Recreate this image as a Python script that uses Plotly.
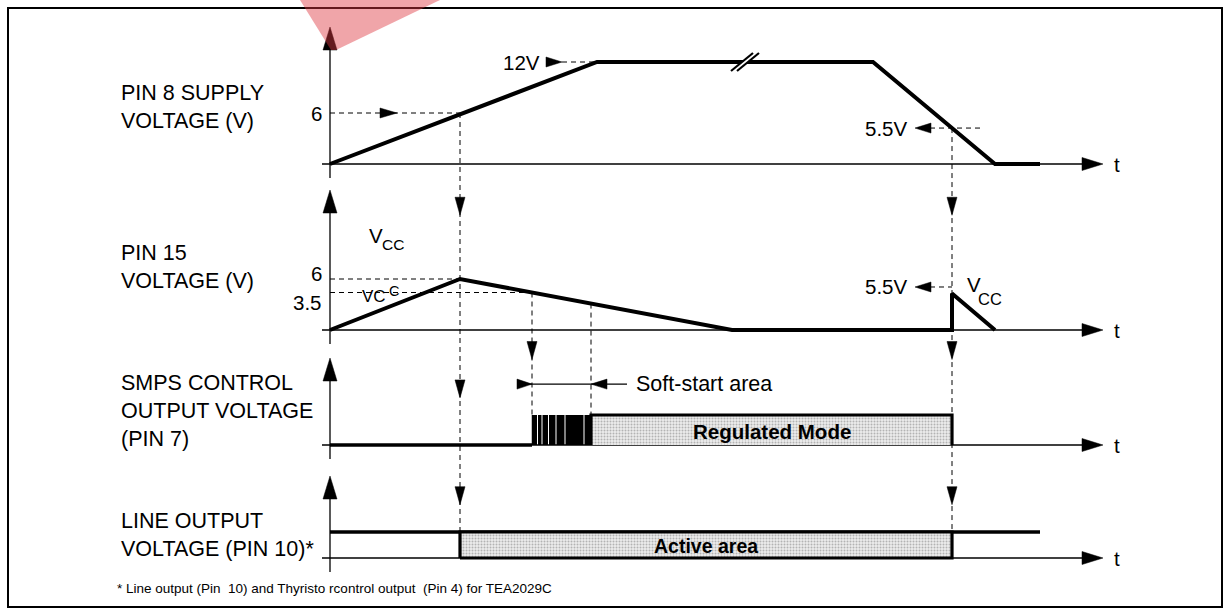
import numpy as np
import plotly.graph_objects as go

W, H = 1230, 615

# ---------------- data ----------------
# Pin 8 supply voltage (V) against time (arbitrary time units)
supply_t = [0.0, 26.7, 54.3, 66.5, 71.0]
supply_v = [0.0, 12.0, 12.0, 0.0, 0.0]

# Pin 15 voltage (V)
pin15_t = [0.0, 13.0, 40.2, 62.2, 62.2, 66.5]
pin15_v = [0.0, 6.0, 0.0, 0.0, 4.3, 0.0]

# SMPS control output (pin 7), logic level 0 / 1
smps_low_t = [0.0, 20.2]
smps_low_v = [0, 0]
pulse_start = [20.3, 20.8, 21.25, 21.9, 22.65, 23.55, 25.45]
pulse_end = [20.7, 21.15, 21.8, 22.55, 23.45, 25.35, 26.0]
regulated_t = [26.1, 26.1, 62.2, 62.2]
regulated_v = [0, 1, 1, 0]

# Line output (pin 10), logic level 0 / 1
line_high_t = [0.0, 71.0]
line_high_v = [1, 1]
active_t = [13.0, 13.0, 62.2, 62.2, 13.0]
active_v = [0, 1, 1, 0, 0]

# events and reference levels
t_on = 13.0         # supply reaches 6 V
t_ss_start = 20.2   # soft start begins
t_ss_end = 26.1     # soft start ends
t_off = 62.2        # supply drops below 5.5 V
t_break = 41.5
level_6 = 6.0
level_12 = 12.0
pin15_off_level = 5.06

panel_labels = ["PIN 8 SUPPLY<br>VOLTAGE (V)", "PIN 15<br>VOLTAGE (V)",
                "SMPS CONTROL<br>OUTPUT VOLTAGE<br>(PIN 7)",
                "LINE OUTPUT<br>VOLTAGE (PIN 10)*"]
tick_text_1 = ["6", "12V", "5.5V"]
tick_text_2 = ["6", "3.5", "5.5V"]
footnote = "* Line output (Pin  10) and Thyristo rcontrol output  (Pin 4) for TEA2029C"

# ---------------- layout geometry ----------------
FONT = "Liberation Sans, Arial, sans-serif"
X_RANGE = [-33, 90]                     # 10 px per time unit
# baseline pixel row and pixels per unit for each panel
PANEL = {1: (164, 8.5), 2: (330, 8.5), 3: (445, 30.0), 4: (558, 26.0)}
AXIS_TIP = {1: 137, 2: 140, 3: 87, 4: 82}
AXIS_END = 77.3
AXIS_START = -0.8
LABEL_SIZE = 21.5
TICK_SIZE = 20.5


def yr(k):
    return "y" if k == 1 else f"y{k}"


def to_paper(k, v):
    b, p = PANEL[k]
    return 1 - (b - v * p) / H


def pp(px):
    return 1 - px / H


shapes = []
annotations = []


def text(x, y, s, yref="y", size=TICK_SIZE, xanchor="left", xshift=0,
         xref="x", **kw):
    annotations.append(dict(x=x, y=y, xref=xref, yref=yref, text=s,
                            showarrow=False, xanchor=xanchor, xshift=xshift,
                            yanchor="middle", font=dict(size=size), **kw))


def arrowhead(t, v, yref, direction, length=20, half=6):
    paths = {
        "up": f"M0,0 L{-half},{-length} L{half},{-length} Z",
        "down": f"M0,0 L{-half},{length} L{half},{length} Z",
        "right": f"M0,0 L{-length},{half} L{-length},{-half} Z",
        "left": f"M0,0 L{length},{half} L{length},{-half} Z",
    }
    shapes.append(dict(type="path", xref="x", yref=yref, xsizemode="pixel",
                       ysizemode="pixel", xanchor=t, yanchor=v,
                       path=paths[direction], fillcolor="black",
                       line=dict(color="black", width=0.5), layer="above"))


def dashed(x0, x1, y0, y1, xref="x", yref="y"):
    shapes.append(dict(type="line", xref=xref, yref=yref, x0=x0, x1=x1,
                       y0=y0, y1=y1, layer="below",
                       line=dict(color="black", width=1, dash="5px,4px")))


fig = go.Figure()

# ---- signal traces ----
thick = dict(color="black", width=4)
fig.add_trace(go.Scatter(x=supply_t, y=supply_v, mode="lines", line=thick,
                         yaxis="y", hoverinfo="skip"))
fig.add_trace(go.Scatter(x=pin15_t, y=pin15_v, mode="lines", line=thick,
                         yaxis="y2", hoverinfo="skip"))
fig.add_trace(go.Scatter(x=smps_low_t, y=smps_low_v, mode="lines",
                         line=dict(color="black", width=3.5), yaxis="y3",
                         hoverinfo="skip"))
pattern = dict(shape=".", fgcolor="#7a7a7a", bgcolor="#ececec", size=3,
               solidity=0.35)
fig.add_trace(go.Scatter(x=regulated_t, y=regulated_v, mode="lines",
                         fill="toself", fillcolor="#dcdcdc", fillpattern=pattern,
                         line=dict(color="black", width=3.2), yaxis="y3",
                         hoverinfo="skip"))
fig.add_trace(go.Scatter(x=line_high_t, y=line_high_v, mode="lines",
                         line=dict(color="black", width=3.5), yaxis="y4",
                         hoverinfo="skip"))
fig.add_trace(go.Scatter(x=active_t, y=active_v, mode="lines",
                         fill="toself", fillcolor="#dcdcdc", fillpattern=pattern,
                         line=dict(color="black", width=3.2), yaxis="y4",
                         hoverinfo="skip"))

# soft-start pulses
for s, e in zip(pulse_start, pulse_end):
    shapes.append(dict(type="rect", xref="x", yref="y3", x0=s, x1=e, y0=0,
                       y1=1, fillcolor="black", line=dict(width=0),
                       layer="above"))
shapes.append(dict(type="line", xref="x", yref="y3", x0=pulse_start[0],
                   x1=pulse_start[0], y0=0, y1=1,
                   line=dict(color="black", width=2.5), layer="above"))

# ---- axes of each panel ----
for k in (1, 2, 3, 4):
    tip = AXIS_TIP[k]
    shapes.append(dict(type="path", xref="x", yref=yr(k), xsizemode="pixel",
                       ysizemode="pixel", xanchor=0, yanchor=0,
                       path=f"M0,-14 L0,{tip - 18}",
                       line=dict(color="black", width=1.3), layer="above"))
    shapes.append(dict(type="path", xref="x", yref=yr(k), xsizemode="pixel",
                       ysizemode="pixel", xanchor=0, yanchor=0,
                       path=f"M0,{tip} L-7,{tip - 23} L7,{tip - 23} Z",
                       fillcolor="black", line=dict(color="black", width=0.5),
                       layer="above"))
    shapes.append(dict(type="line", xref="x", yref=yr(k), x0=AXIS_START,
                       x1=AXIS_END - 1.5, y0=0, y1=0,
                       line=dict(color="black", width=1.3), layer="below"))
    arrowhead(AXIS_END, 0, yr(k), "right", length=21, half=6.5)
    text(AXIS_END + 0.9, 0, "t", yref=yr(k))

# ---- panel labels ----
label_y = [107, 267, 411, 535]
for txt, ypx in zip(panel_labels, label_y):
    annotations.append(dict(x=119 / W, y=pp(ypx), xref="paper", yref="paper",
                            text=txt, showarrow=False, xanchor="left",
                            yanchor="middle", align="left",
                            font=dict(size=LABEL_SIZE)))

# ---- panel 1 annotations ----
dashed(0, t_on, level_6, level_6, yref="y")
arrowhead(6.7, level_6, "y", "right", length=17, half=5)
text(0, level_6, tick_text_1[0], xanchor="right", xshift=-6)
t_12_tip = 23.2
dashed(t_12_tip, supply_t[1], level_12, level_12, yref="y")
arrowhead(t_12_tip, level_12, "y", "right", length=16, half=5)
text(t_12_tip, level_12, tick_text_1[1], xanchor="right", xshift=-20)
v_off_1 = float(np.interp(-t_off, [-supply_t[3], -supply_t[2]],
                          [supply_v[3], supply_v[2]]))
t_55_tip = 58.5
dashed(t_55_tip + 1.5, 65.0, v_off_1, v_off_1, yref="y")
arrowhead(t_55_tip, v_off_1, "y", "left", length=16, half=5)
text(t_55_tip, v_off_1, tick_text_1[2], xanchor="right", xshift=-6)
# time break mark
shapes.append(dict(type="path", xref="x", yref="y", xsizemode="pixel",
                   ysizemode="pixel", xanchor=t_break, yanchor=level_12,
                   path="M-14,-9 L-8,-9 L14,9 L8,9 Z", fillcolor="white",
                   line=dict(width=0), layer="above"))
for dx in (-14, -8):
    shapes.append(dict(type="path", xref="x", yref="y", xsizemode="pixel",
                       ysizemode="pixel", xanchor=t_break, yanchor=level_12,
                       path=f"M{dx},-9 L{dx + 22},9",
                       line=dict(color="black", width=2.2), layer="above"))

# ---- panel 2 annotations ----
v_ss_start = float(np.interp(t_ss_start, pin15_t[1:3], pin15_v[1:3]))
v_ss_end = float(np.interp(t_ss_end, pin15_t[1:3], pin15_v[1:3]))
dashed(0, t_on, level_6, level_6, yref="y2")
dashed(0, t_ss_start, v_ss_start, v_ss_start, yref="y2")
text(0, 6.7, tick_text_2[0], yref="y2", xanchor="right", xshift=-6)
text(0, 3.2, tick_text_2[1], yref="y2", xanchor="right", xshift=-6)
# V_CC labels written as main letter + smaller offset letters
text(3.7, 11.06, "V", yref="y2", size=20.5)
text(5.0, 10.1, "CC", yref="y2", size=15.5)
text(3.0, 4.0, "VC", yref="y2", size=17)
text(5.65, 4.6, "C", yref="y2", size=14.5)
text(63.5, 5.3, "V", yref="y2", size=20.5)
text(64.6, 3.65, "CC", yref="y2", size=16.5)
dashed(t_55_tip + 1.5, t_off, pin15_off_level, pin15_off_level, yref="y2")
arrowhead(t_55_tip, pin15_off_level, "y2", "left", length=16, half=5)
text(t_55_tip, pin15_off_level, tick_text_2[2], yref="y2", xanchor="right",
     xshift=-6)

# ---- panel 3 annotations ----
ss_level = 2.03
shapes.append(dict(type="line", xref="x", yref="y3", x0=18.7, x1=29.7,
                   y0=ss_level, y1=ss_level,
                   line=dict(color="black", width=1.3), layer="above"))
arrowhead(t_ss_start, ss_level, "y3", "right", length=15, half=5)
arrowhead(t_ss_end, ss_level, "y3", "left", length=16, half=5)
text(30.4, ss_level, "Soft-start area", yref="y3", size=LABEL_SIZE)
text((regulated_t[0] + regulated_t[2]) / 2, 0.45, "<b>Regulated Mode</b>",
     yref="y3", size=20.5, xanchor="center")

# ---- panel 4 annotations ----
text((active_t[0] + active_t[2]) / 2, 0.45, "<b>Active area</b>",
     yref="y4", size=19.5, xanchor="center")

# ---- vertical guides linking the panels ----
guides = [
    (t_on, (1, level_6), (4, 1)),
    (t_off, (1, v_off_1), (4, 1)),
    (t_ss_start, (2, v_ss_start), (3, 1)),
    (t_ss_end, (2, v_ss_end), (3, 1)),
]
for t, (k0, v0), (k1, v1) in guides:
    dashed(t, t, to_paper(k0, v0), to_paper(k1, v1), yref="paper")

# down arrowheads on guides (panel, value in panel units)
guide_arrows = [
    (t_on, 2, 13.5), (t_on, 3, 1.57), (t_on, 4, 2.05),
    (t_off, 2, 13.5), (t_off, 3, 2.85), (t_off, 4, 2.05),
    (t_ss_start, 3, 2.85),
]
for t, k, v in guide_arrows:
    arrowhead(t, v, yr(k), "down", length=18, half=5)

# footnote
text(115 / W, pp(588), footnote, xref="paper", yref="paper", size=13.5)

# frame
shapes.append(dict(type="rect", xref="paper", yref="paper", x0=8 / W,
                   x1=1222 / W, y0=pp(607), y1=pp(8),
                   line=dict(color="black", width=2), layer="above"))
# red watermark corner
shapes.append(dict(type="path", xref="paper", yref="paper",
                   path=f"M{300 / W},1 L{440 / W},1 L{336 / W},{pp(50)} "
                        f"L{331 / W},{pp(50)} Z",
                   fillcolor="rgba(222,55,65,0.45)", line=dict(width=0),
                   layer="above"))

layout_axes = {}
for k in (1, 2, 3, 4):
    b, p = PANEL[k]
    ax = dict(range=[(b - H) / p, b / p], visible=False, fixedrange=True,
              domain=[0, 1])
    if k > 1:
        ax["overlaying"] = "y"
    layout_axes["yaxis" if k == 1 else f"yaxis{k}"] = ax

fig.update_layout(
    width=W, height=H, margin=dict(l=0, r=0, t=0, b=0),
    paper_bgcolor="white", plot_bgcolor="white", showlegend=False,
    font=dict(family=FONT, color="black"),
    xaxis=dict(range=X_RANGE, visible=False, fixedrange=True, domain=[0, 1]),
    shapes=shapes, annotations=annotations,
    **layout_axes,
)

fig.write_html("out.html", config={"displayModeBar": False},
               post_script="document.body.style.margin='0';"
                           "document.body.style.overflow='hidden';")
